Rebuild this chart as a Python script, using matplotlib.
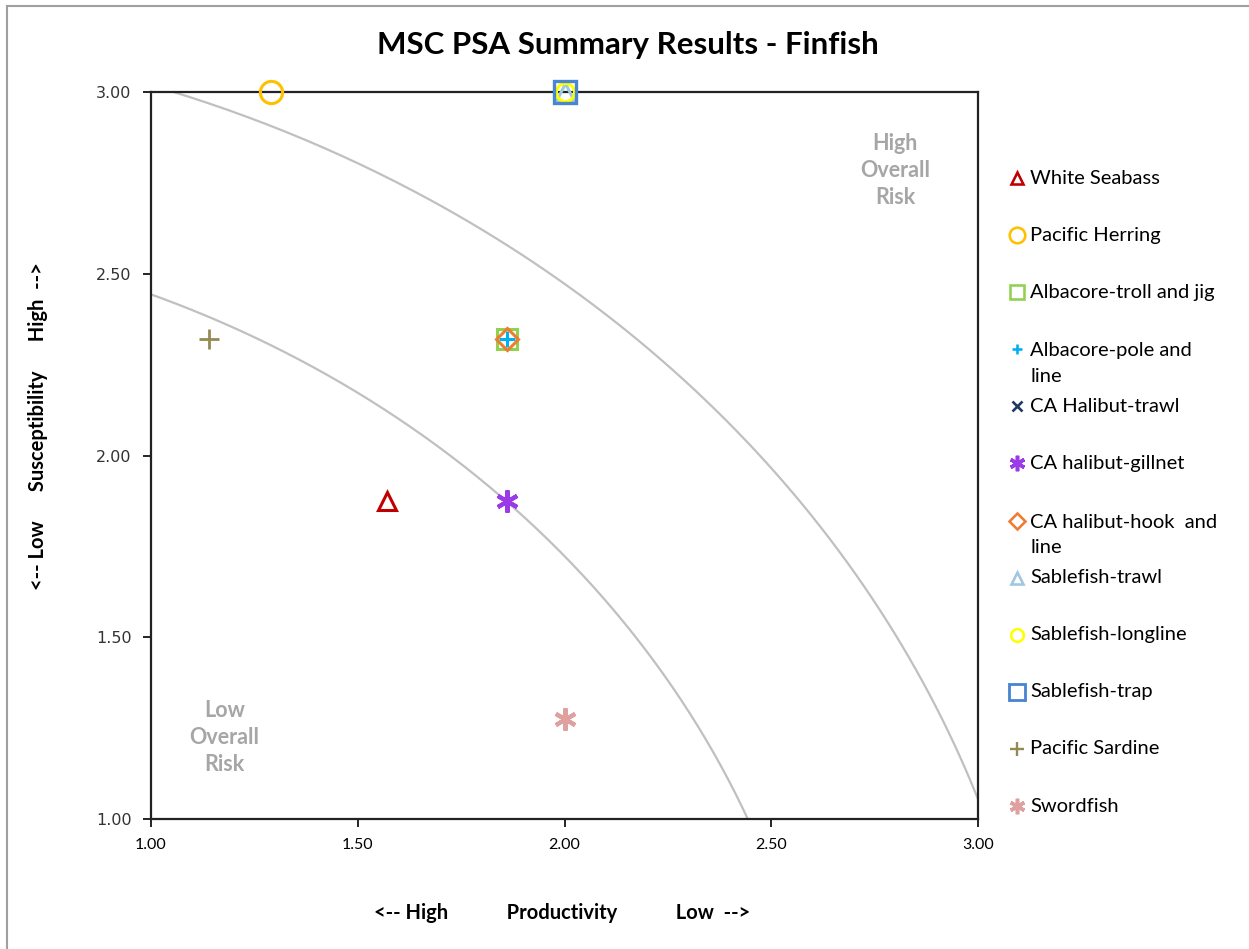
import numpy as np
import matplotlib
matplotlib.use("Agg")
import matplotlib.pyplot as plt
from matplotlib.lines import Line2D
from matplotlib.patches import Rectangle

plt.rcParams['font.family'] = ['Lato', 'DejaVu Sans']

# ---- data ----
series_names = ["White Seabass", "Pacific Herring", "Albacore-troll and jig",
                "Albacore-pole and\nline", "CA Halibut-trawl", "CA halibut-gillnet",
                "CA halibut-hook  and\nline", "Sablefish-trawl", "Sablefish-longline",
                "Sablefish-trap", "Pacific Sardine", "Swordfish"]
productivity = [1.57, 1.29, 1.86, 1.86, np.nan, 1.86, 1.86, 2.00, 2.00, 2.00, 1.14, 2.00]
susceptibility = [1.875, 3.00, 2.32, 2.32, np.nan, 1.875, 2.32, 3.00, 3.00, 3.00, 2.32, 1.275]
risk_thresholds = [2.64, 3.18]
x_ticks = [1.00, 1.50, 2.00, 2.50, 3.00]
y_ticks = [1.00, 1.50, 2.00, 2.50, 3.00]

# ---- styles ----
AST = (6, 2, 0)
styles = [
    dict(marker='^', color='#C00000', ms=13, mew=2.2),
    dict(marker='o', color='#FFC000', ms=16, mew=2.2),
    dict(marker='s', color='#92D050', ms=15, mew=2.2),
    dict(marker='+', color='#00B0F0', ms=11, mew=2.2),
    dict(marker='x', color='#1F3864', ms=10, mew=2.2),
    dict(marker=AST, color='#9B3BE8', ms=16, mew=3.0),
    dict(marker='D', color='#ED7D31', ms=11, mew=2.2),
    dict(marker='^', color='#9DC8E0', ms=13, mew=2.2),
    dict(marker='o', color='#FFFF00', ms=13, mew=2.2),
    dict(marker='s', color='#4A86D0', ms=16, mew=2.4),
    dict(marker='+', color='#948A54', ms=14, mew=2.0),
    dict(marker=AST, color='#E0A0A0', ms=16, mew=3.0),
]

W, H = 1249, 949
fig = plt.figure(figsize=(W / 100, H / 100), dpi=100)
ax = fig.add_axes([151 / W, 1 - 819 / H, (978 - 151) / W, (819 - 92) / H])

# outer border
fig.patches.append(Rectangle((7 / W, -0.1), 1.2, 1 - 6 / H + 0.1, transform=fig.transFigure,
                             fill=False, edgecolor='#A0A0A0', lw=1.5))

# risk contours
theta = np.linspace(0, np.pi / 2, 400)
for r in risk_thresholds:
    ax.plot(r * np.cos(theta), r * np.sin(theta), color='#C0C0C0', lw=1.6, zorder=1)

handles = []
for name, px, sy, st in zip(series_names, productivity, susceptibility, styles):
    kw = dict(linestyle='none', marker=st['marker'], markersize=st['ms'],
              markeredgewidth=st['mew'], color=st['color'], markeredgecolor=st['color'],
              markerfacecolor='none')
    ax.plot([px], [sy], zorder=3, clip_on=False, **kw)
    handles.append(kw)

ax.set_xlim(1.0, 3.0)
ax.set_ylim(1.0, 3.0)
ax.set_xticks(x_ticks)
ax.set_yticks(y_ticks)
ax.set_xticklabels([f"{v:.2f}" for v in x_ticks], fontsize=11.5)
ax.set_yticklabels([f"{v:.2f}" for v in y_ticks], fontsize=11.5, family='DejaVu Sans', color='#333333')
ax.tick_params(direction='out', length=6, width=1.2, color='black', pad=8)
for s in ax.spines.values():
    s.set_linewidth(1.6)
    s.set_color('#222222')

# region labels
ax.text(2.80, 2.785, "High\nOverall\nRisk", ha='center', va='center', fontsize=15.5,
        color='#A6A6A6', fontweight='bold', linespacing=1.35)
ax.text(1.177, 1.223, "Low\nOverall\nRisk", ha='center', va='center', fontsize=15.5,
        color='#A6A6A6', fontweight='bold', linespacing=1.35)

fig.text(628 / W, 1 - 45 / H, "MSC PSA Summary Results - Finfish", ha='center', va='center',
         fontsize=22.5, fontweight='bold')
fig.text(562 / W, 1 - 913 / H, "<-- High            Productivity            Low  -->", ha='center',
         va='center', fontsize=14.5, fontweight='bold')
fig.text(38 / W, 1 - 426 / H, "<-- Low      Susceptibility      High  -->", ha='center',
         va='center', rotation=90, fontsize=14.5, fontweight='bold')

# legend (manual)
for i, (name, kw) in enumerate(zip(series_names, handles)):
    yp = 178 + 57.1 * i
    k = dict(kw)
    k['markersize'] = k['markersize'] * 0.7
    k['markeredgewidth'] = k['markeredgewidth'] * 0.85
    fig.add_artist(Line2D([1017 / W], [1 - yp / H], transform=fig.transFigure, **k))
    if '\n' in name:
        fig.text(1030 / W, 1 - (yp - 7) / H, name, ha='left', va='top', fontsize=14.5,
                 linespacing=1.6)
    else:
        fig.text(1030 / W, 1 - yp / H, name, ha='left', va='center', fontsize=14.5)

fig.savefig("out.png", dpi=100)
